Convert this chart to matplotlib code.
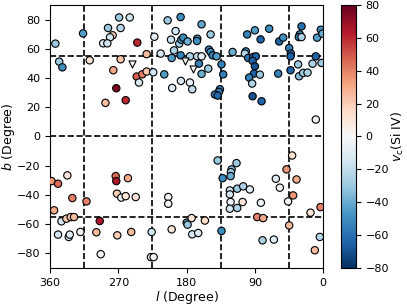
import matplotlib
matplotlib.use("Agg")
import matplotlib.pyplot as plt
import numpy as np

# Galactic longitude, latitude, and Si IV velocity for the circles
lon = [353, 316.5, 269, 255, 283.6, 267, 277.5, 281, 290, 284.5, 245, 348, 343.8, 307.7, 267, 276.6,
       245.8, 238.4, 232.7, 242.8, 272.7, 260.3, 287, 232.7, 224, 222.5, 205, 187.9, 160.3, 194.5,
       200.6, 189.7, 187, 184.4, 178.7, 166, 166.4, 148.4, 196.6, 214.2, 199.7, 187.9, 175.6, 166,
       160.3, 150.6, 148.4, 145.7, 140.5, 119.4, 163.8, 209.5, 160.3, 151.5, 134, 131.8, 187.5, 175.6,
       199, 172.6, 136.1, 137.4, 142.7, 139.1, 100.2, 90, 71.2, 82.5, 58, 52.7, 28.5, 30.8, 32.1, 28.5,
       8, 3.1, 1, 101.9, 103.2, 98.8, 92.3, 88.7, 93, 90, 91.3, 83.4, 97.5, 93.6, 93, 81.2, 44.8, 42.6,
       43, 59.3, 43, 33, 31.7, 26.4, 20.6, 14, 9.7, 2.2, 9.7,
       358, 349.5, 337.2, 330.6, 354.7, 312, 345, 338.5, 332.7, 328.4, 349.5, 335.4, 334, 320, 273.5,
       272.7, 257.3, 271.8, 266.1, 260.3, 247.1, 294.5, 299, 271.4, 253, 293.2, 226.1, 227, 223.5,
       204.2, 204.2, 199.7, 180, 178.7, 173.4, 155.9, 172.6, 164.7, 134, 139.1, 132.5, 120.7, 121.6,
       122, 114.2, 123, 123, 113.3, 122, 123, 113.3, 105.4, 96.6, 106.2, 82.1, 62.4, 57.1, 48.3, 40.9,
       35.1, 39.6, 46.2, 87, 79.1, 44.8, 79.9, 65, 16.7, 3.5, 4.4, 11]
lat = [63.5, 70.5, 81.4, 81.4, 74.2, 74.2, 69.2, 67.8, 63.7, 63.7, 64.2, 51.2, 47.3, 52.1, 52.8, 45.3,
       41, 42.5, 44.4, 36.9, 33, 24.8, 23, 56.3, 43.9, 68.2, 79.4, 81.7, 76.7, 72.1,
       66.2, 63.5, 66.2, 67.6, 65, 66.9, 65.3, 69.8, 58.9, 56.7, 53.7, 55.5, 54.8, 54.8,
       54.8, 59.4, 57.8, 55.5, 54.8, 57.8, 49.8, 42.5, 42.8, 46.4, 49.3, 42.5, 38, 36.9,
       33.2, 32.3, 32.3, 30.5, 28.7, 28, 69.8, 72.6, 73.7, 66.4, 65, 67.6, 75.3, 69.8, 68, 68,
       67.6, 73, 70.3, 58.2, 56.7, 53.7, 54.4, 54.8, 51.7, 48, 43, 42.3, 40.3, 36.2, 27.5, 24.1, 60.5, 56.7,
       54.8, 43, 45.3, 49.3, 41.2, 43.5, 43.7, 49.8, 54.8, 50.3, 11.6,
       -30.5, -32.3, -26.6, -42.1, -50.5, -44.4, -58, -56.2, -55.1, -55.1, -67.1, -68.7, -67.1, -65.3, -27.1,
       -30.5, -28.5, -39.1, -41.8, -40.8, -41.4, -57.8, -65.5, -67.6, -65.3, -80.5, -65.3, -82.5, -82.5,
       -41.4, -46, -63.5, -58.9, -60.3, -55.8, -57.5, -66.9, -66, -64.6, -16.4, -28.5, -22.5, -24.4,
       -27.1, -18.2, -36.9, -39.6, -35.7, -44.8, -49.4, -48.9, -34.1, -36.2, -44.8, -45.3, -28.9, -35, -22.5, -13,
       -29.4, -40.3, -44.4, -55.1, -55.8, -60.8, -71, -70.5, -52.1, -48.3, -68.7, -77.8]
vel = [-30, -45, -30, -15, -30, -22, 20, -15, -8, -15, 60, -30, -50, 12, 22, 30,
       48, 40, 22, -12, 75, 60, 25, 25, -15, -10, -30, -50, -42, -15,
       -18, -28, -45, -50, -40, -45, -50, -30, -25, -15, -45, -55, -25, -20,
       -8, -55, -50, -55, -45, -40, -55, -45, -40, -30, -55, -55, -15, -5,
       -10, -20, -55, -55, -55, -62, -55, -45, -50, -65, -65, -50, -60, -50, -55, -25,
       -45, -50, -40, -50, -25, -60, -60, -65, -65, -70, -65, -30, -55, -25, -70, -65, -55, -65,
       -65, -55, -65, -30, -35, -30, -25, -25, -65, -30, -5,
       35, 45, 10, 40, 30, 40, -15, 20, 20, 25, -15, -15, -10, -5, 45,
       65, 30, 20, -5, 10, 10, 65, 25, 20, 25, -3, -15, 3, -3,
       -3, -3, 10, -45, -30, 10, 15, -15, -12, -50, -30, -50, -35, -30,
       -40, -30, -15, -15, -30, -5, -15, -25, -25, -10, 10, -5, -10, -3, 35, 12,
       30, 35, -5, 40, 30, 25, -25, -10, 10, 40, -22, 25]

# Upper-limit / non-detection sightlines (triangles)
tri_lon = [252, 182, 172]
tri_lat = [49.8, 51.5, 46.3]

x_ticks = [360, 270, 180, 90, 0]
y_ticks = [-80, -60, -40, -20, 0, 20, 40, 60, 80]
cb_ticks = [-80, -60, -40, -20, 0, 20, 40, 60, 80]
v_lines = [315, 225, 135, 45]
h_lines = [55, 0, -55]

fig = plt.figure(figsize=(4.07, 3.05), dpi=100)
ax = fig.add_axes([0.123, 0.121, 0.671, 0.863])
cax = fig.add_axes([0.838, 0.121, 0.036, 0.863])

for xv in v_lines:
    ax.axvline(xv, color='black', ls='--', lw=1.2, zorder=1)
for yv in h_lines:
    ax.axhline(yv, color='black', ls='--', lw=1.2, zorder=1)

sc = ax.scatter(lon, lat, c=vel, cmap='RdBu_r', vmin=-80, vmax=80, s=28,
                edgecolors='black', linewidths=0.8, zorder=3)
ax.scatter(tri_lon, tri_lat, marker='v', facecolors='white', edgecolors='black',
           s=26, linewidths=0.8, zorder=3)

ax.set_xlim(360, 0)
ax.set_ylim(-90, 90)
ax.set_xticks(x_ticks)
ax.set_yticks(y_ticks)
ax.tick_params(labelsize=8)
ax.set_xlabel(r'$l$ (Degree)', fontsize=9, labelpad=1)
ax.set_ylabel(r'$b$ (Degree)', fontsize=9, labelpad=0)

cb = fig.colorbar(sc, cax=cax, ticks=cb_ticks)
cb.ax.tick_params(labelsize=8)
cb.set_label(r'$v_{\rm c}$(Si IV)', fontsize=9, labelpad=1)

fig.savefig('out.png', dpi=100)
